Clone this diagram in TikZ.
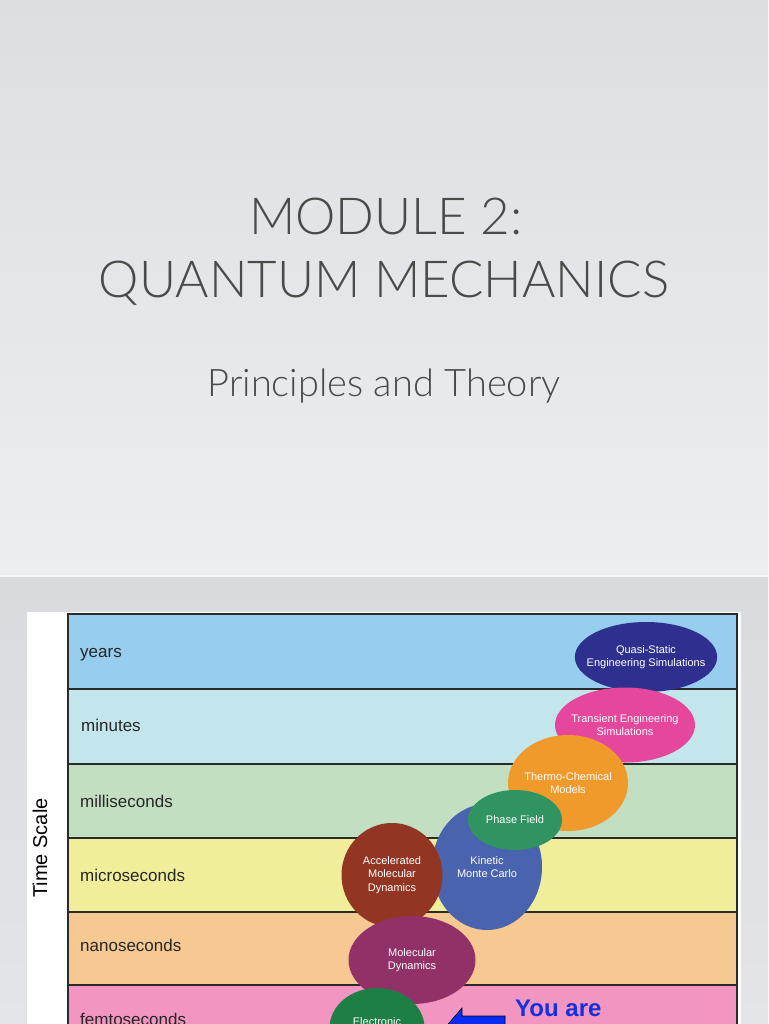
\documentclass[tikz,border=0pt]{standalone}
\usepackage{fontspec}
\setmainfont{Liberation Sans}
\newfontfamily\titlefont{Lato Light}
\usetikzlibrary{shapes.geometric}
\definecolor{bgtopA}{HTML}{DCDEE1}
\definecolor{bgbotA}{HTML}{EDEEF0}
\definecolor{bgtopB}{HTML}{D8DADD}
\definecolor{bgbotB}{HTML}{E4E5E8}
\definecolor{titleC}{HTML}{4A4A4A}
\definecolor{yearsC}{HTML}{97CDEF}
\definecolor{minutesC}{HTML}{C3E6EC}
\definecolor{millisC}{HTML}{C2E0C1}
\definecolor{microC}{HTML}{F1EE9B}
\definecolor{nanoC}{HTML}{F6C892}
\definecolor{femtoC}{HTML}{F295C1}
\definecolor{quasiC}{HTML}{2F2F8F}
\definecolor{transC}{HTML}{E4479B}
\definecolor{thermoC}{HTML}{F19A2C}
\definecolor{phaseC}{HTML}{2F9462}
\definecolor{kmcC}{HTML}{4A63AF}
\definecolor{amdC}{HTML}{923522}
\definecolor{mdC}{HTML}{923068}
\definecolor{esC}{HTML}{1E7F44}
\definecolor{arrowC}{HTML}{0A2BF5}
\definecolor{youC}{HTML}{1530E0}
\definecolor{lineC}{HTML}{2A2A2A}
\tikzset{
  band/.style={draw=lineC, line width=1.4pt},
  bandlabel/.style={anchor=base west, inner sep=0pt, font=\fontsize{17}{17}\selectfont, text=black!85},
  blob/.style={ellipse, inner ysep=0pt, inner xsep=-9pt, text=white, align=center,
    font=\fontsize{11}{13.5}\selectfont},
  titletext/.style={anchor=base, inner sep=0pt, text=titleC}
}
\begin{document}
\begin{tikzpicture}[x=1pt,y=-1pt]
\useasboundingbox (0,0) rectangle (768,1024);
\clip (0,0) rectangle (768,1024);
% backgrounds
\shade[top color=bgtopA, bottom color=bgbotA] (0,0) rectangle (768,575);
\fill[white!94!gray] (0,575) rectangle (768,577);
\shade[top color=bgtopB, bottom color=bgbotB] (0,577) rectangle (768,1024);
% title
\node[titletext, font=\titlefont\fontsize{51}{51}\selectfont] (t1) at (386,234) {MODULE 2:};
\node[titletext, font=\titlefont\fontsize{51}{51}\selectfont] (t2) at (384,297) {QUANTUM MECHANICS};
\node[titletext, font=\titlefont\fontsize{38}{38}\selectfont] (t3) at (384,396) {Principles and Theory};
% white panel
\fill[white] (27,612) rectangle (741,1024);
% bands
\fill[yearsC] (68,614) rectangle (737,689);
\fill[minutesC] (68,689) rectangle (737,764);
\fill[millisC] (68,764) rectangle (737,838);
\fill[microC] (68,838) rectangle (737,912);
\fill[nanoC] (68,912) rectangle (737,985);
\fill[femtoC] (68,985) rectangle (737,1030);
\draw[band] (68,1030) -- (68,614) -- (737,614) -- (737,1030);
\foreach \yy in {689,764,838,912,985} \draw[band] (68,\yy) -- (737,\yy);
% labels
\node[bandlabel] (lyears) at (80,657) {years};
\node[bandlabel] (lminutes) at (81,731) {minutes};
\node[bandlabel] (lmillis) at (80,807) {milliseconds};
\node[bandlabel] (lmicro) at (80,881) {microseconds};
\node[bandlabel] (lnano) at (80,951) {nanoseconds};
\node[bandlabel] (lfemto) at (80,1025) {femtoseconds};
\node[rotate=90, inner sep=0pt, font=\fontsize{20}{20}\selectfont, text=black] (ts) at (40,848) {Time Scale};
% ellipses
\node[blob, fill=quasiC, minimum width=142, minimum height=70] (qs) at (646,657) {Quasi-Static\\Engineering Simulations};
\node[blob, fill=transC, minimum width=140, minimum height=75] (te) at (625,725) {Transient Engineering\\Simulations};
\node[blob, fill=thermoC, minimum width=120, minimum height=96] (tc) at (568,783) {Thermo-Chemical\\Models};
\node[blob, fill=kmcC, minimum width=110, minimum height=126] (kmc) at (487,867) {Kinetic\\Monte Carlo};
\node[blob, fill=phaseC, minimum width=94, minimum height=60] (pf) at (515,820) {Phase Field};
\node[blob, fill=amdC, minimum width=101, minimum height=104] (amd) at (392,875) {Accelerated\\Molecular\\Dynamics};
\node[blob, fill=mdC, minimum width=127, minimum height=88] (md) at (412,960) {Molecular\\Dynamics};
\node[blob, fill=esC, minimum width=95, minimum height=80] (es) at (377,1028) {Electronic\\Structure};
% arrow
\filldraw[fill=arrowC, draw=black, line width=0.6pt]
  (443,1030) -- (462,1008) -- (462,1016) -- (505,1016) -- (505,1044) -- (462,1044) -- (462,1052) -- cycle;
\node[anchor=base west, inner sep=0pt, text=youC, font=\bfseries\fontsize{24}{24}\selectfont] (you) at (515,1016) {You are};
\end{tikzpicture}
\end{document}
